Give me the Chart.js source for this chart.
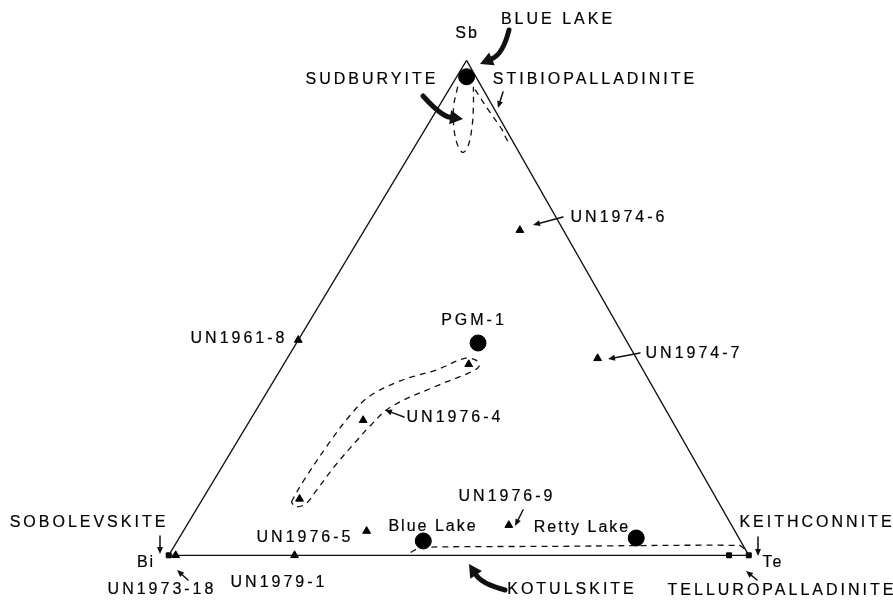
<!DOCTYPE html>
<html lang="en">
<head>
  <meta charset="UTF-8">
  <title>Sb-Bi-Te ternary</title>
  <script src="https://cdn.jsdelivr.net/npm/chart.js@4.4.0/dist/chart.umd.min.js"></script>
  <style>
    body { margin: 0; background: #fff; }
    .wrap { width: 893px; height: 607px; position: relative; }
  </style>
</head>
<body>
<div class="wrap"><canvas id="ternary"></canvas></div>

<script>
  // compositions are [Sb, Bi, Te] in atom %
  const circleNames = ['Blue Lake (Sb)', 'PGM-1', 'Blue Lake', 'Retty Lake'];
  const circleComp = [[96.7, 1.6, 1.7], [42.9, 25.8, 31.3], [2.9, 54.7, 42.4], [3.5, 17.7, 78.8]];

  const triangleNames = ['UN1974-6', 'UN1974-7', 'UN1961-8', 'UN1976-4a', 'UN1976-4b', 'UN1976-4c',
                         'UN1976-5', 'UN1976-9', 'UN1979-1', 'UN1973-18'];
  const triangleComp = [[65.7, 7.5, 26.8], [39.8, 6.7, 53.5], [43.5, 56.5, 0], [38.6, 29.5, 31.9],
                        [27.3, 53.2, 19.5], [11.4, 71.9, 16.7], [4.9, 63.5, 31.6], [6.1, 38.4, 55.5],
                        [0, 78.3, 21.7], [0, 98.8, 1.2]];

  const squareNames = ['Sobolevskite', 'Telluropalladinite', 'Keithconnite'];
  const squareComp = [[0, 100, 0], [0, 3.4, 96.6], [0, 0, 100]];

  // dashed composition fields
  const sudburyiteField = [[94.7, 4.1, 1.2], [90.8, 6.7, 2.5], [86.9, 8.6, 4.5], [83.3, 9.8, 6.9], [81.4, 9.7, 8.9],
                           [82.9, 8.0, 9.1], [86.9, 5.4, 7.7], [90.8, 3.3, 5.9], [94.7, 1.4, 3.9]];
  const stibiopalladiniteField = [[94.1, 1.4, 4.5], [89.8, 1.1, 9.1], [86.1, 0.7, 13.2], [83.5, 0.8, 15.7], [83.7, 0, 16.3]];
  const un1976Field = [[10.8, 73.6, 15.6], [14.9, 69.6, 15.5], [22.7, 61.3, 16.0], [28.0, 55.3, 16.7], [32.0, 50.0, 18.0],
                       [35.3, 42.8, 21.9], [37.5, 35.5, 27.0], [39.8, 29.6, 30.6], [39.4, 27.8, 32.8], [38.2, 27.9, 33.9],
                       [36.9, 30.2, 32.9], [34.3, 37.0, 28.7], [30.0, 47.1, 22.9], [26.5, 52.1, 21.4], [22.7, 56.9, 20.4],
                       [18.2, 62.4, 19.4], [12.9, 68.4, 18.7], [10.4, 71.3, 18.3], [9.8, 73.4, 16.8], [10.8, 73.6, 15.6]];
  const kotulskiteField = [[0.6, 58.0, 41.4], [1.6, 55.8, 42.6], [1.8, 33.7, 64.5], [2.0, 0.7, 97.3], [1.0, 0, 99.0], [0, 0, 100]];

  const vertices = [[100, 0, 0], [0, 100, 0], [0, 0, 100], [100, 0, 0]];

  // ternary -> plot units (Bi at origin, Te at 100, Sb apex)
  const APEX_X = 51.35, APEX_Y = 86.15;
  function toXY(c) {
    const tot = c[0] + c[1] + c[2];
    const sb = c[0] / tot, te = c[2] / tot;
    return { x: APEX_X * sb + 100 * te, y: APEX_Y * sb };
  }

  const dashed = (pts) => ({
    data: pts.map(toXY), showLine: true, borderColor: '#111', borderWidth: 1.3,
    borderDash: [6, 5], pointRadius: 0, tension: 0.35, fill: false
  });

  const labels = [
    ['Sb', 466, 34], ['BLUE LAKE', 557, 20], ['SUDBURYITE', 371, 80], ['STIBIOPALLADINITE', 594, 80],
    ['UN1974-6', 618, 218], ['UN1974-7', 693, 354], ['UN1961-8', 238, 339], ['PGM-1', 473, 321],
    ['UN1976-4', 454, 418], ['UN1976-9', 506, 497], ['UN1976-5', 304, 538], ['Blue Lake', 432, 527],
    ['Retty Lake', 581, 528], ['SOBOLEVSKITE', 88, 523], ['Bi', 145, 563], ['UN1973-18', 161, 590],
    ['UN1979-1', 278, 583], ['KOTULSKITE', 571, 590], ['TELLUROPALLADINITE', 781, 591],
    ['KEITHCONNITE', 816, 523], ['Te', 772, 563]
  ];

  const arrows = [
    { p: [[509, 30], [503, 54], [480, 64]], thick: true },
    { p: [[423, 96], [441, 116], [463, 119]], thick: true },
    { p: [[505, 590], [482, 584], [469, 564]], thick: true },
    { p: [[503, 92], [498, 108]] },
    { p: [[563, 217], [533, 225]] },
    { p: [[640, 353], [608, 359]] },
    { p: [[404, 417], [385, 410]] },
    { p: [[523, 510], [515, 526]] },
    { p: [[160, 536], [160, 554]] },
    { p: [[188, 580], [177, 570]] },
    { p: [[758, 537], [758, 556]] },
    { p: [[757, 580], [746, 571]] }
  ];

  function drawArrow(ctx, a) {
    const p = a.p;
    const tip = p[p.length - 1], prev = p[p.length - 2];
    const ang = Math.atan2(tip[1] - prev[1], tip[0] - prev[0]);
    const hl = a.thick ? 13 : 7, hw = a.thick ? 7 : 3;
    const bx = tip[0] - hl * Math.cos(ang), by = tip[1] - hl * Math.sin(ang);
    ctx.save();
    ctx.strokeStyle = '#111';
    ctx.fillStyle = '#111';
    ctx.lineWidth = a.thick ? 5 : 1.5;
    ctx.lineCap = 'round';
    ctx.beginPath();
    ctx.moveTo(p[0][0], p[0][1]);
    if (p.length === 3) ctx.quadraticCurveTo(p[1][0], p[1][1], bx, by);
    else ctx.lineTo(bx, by);
    ctx.stroke();
    ctx.beginPath();
    ctx.moveTo(tip[0], tip[1]);
    ctx.lineTo(bx + hw * Math.sin(ang), by - hw * Math.cos(ang));
    ctx.lineTo(bx - hw * Math.sin(ang), by + hw * Math.cos(ang));
    ctx.closePath();
    ctx.fill();
    ctx.restore();
  }

  const annotate = {
    id: 'annotate',
    afterDatasetsDraw(chart) {
      const ctx = chart.ctx;
      ctx.save();
      ctx.fillStyle = '#000';
      ctx.strokeStyle = '#000';
      ctx.lineWidth = 0.2;
      ctx.font = '16px "Liberation Sans", Arial, sans-serif';
      ctx.textAlign = 'center';
      ctx.textBaseline = 'middle';
      labels.forEach(([t, x, y]) => {
        ctx.letterSpacing = /[a-z]/.test(t) ? '2px' : '3px';
        ctx.fillText(t, x + 1, y);
        ctx.strokeText(t, x + 1, y);
      });
      ctx.restore();
      arrows.forEach(a => drawArrow(ctx, a));
    }
  };

  new Chart(document.getElementById('ternary'), {
    type: 'scatter',
    data: {
      datasets: [
        { data: vertices.map(toXY), showLine: true, borderColor: '#111', borderWidth: 1.3, pointRadius: 0, tension: 0 },
        dashed(sudburyiteField),
        dashed(stibiopalladiniteField),
        dashed(un1976Field),
        { ...dashed(kotulskiteField), tension: 0.2 },
        { label: 'circles', data: circleComp.map(toXY), pointStyle: 'circle', pointRadius: 8,
          backgroundColor: '#000', borderColor: '#000' },
        { label: 'triangles', data: triangleComp.map(toXY), pointStyle: 'triangle', pointRadius: 4.5,
          backgroundColor: '#000', borderColor: '#000', borderWidth: 1 },
        { label: 'squares', data: squareComp.map(toXY), pointStyle: 'rect', pointRadius: 3.5,
          backgroundColor: '#000', borderColor: '#000' }
      ]
    },
    options: {
      responsive: true,
      maintainAspectRatio: false,
      animation: false,
      layout: { padding: 0 },
      plugins: { legend: { display: false }, tooltip: { enabled: false } },
      scales: {
        x: { type: 'linear', display: false, min: -27.53, max: 123.31 },
        y: { type: 'linear', display: false, min: -7.43, max: 95.10 }
      }
    },
    plugins: [annotate]
  });
</script>
</body>
</html>
